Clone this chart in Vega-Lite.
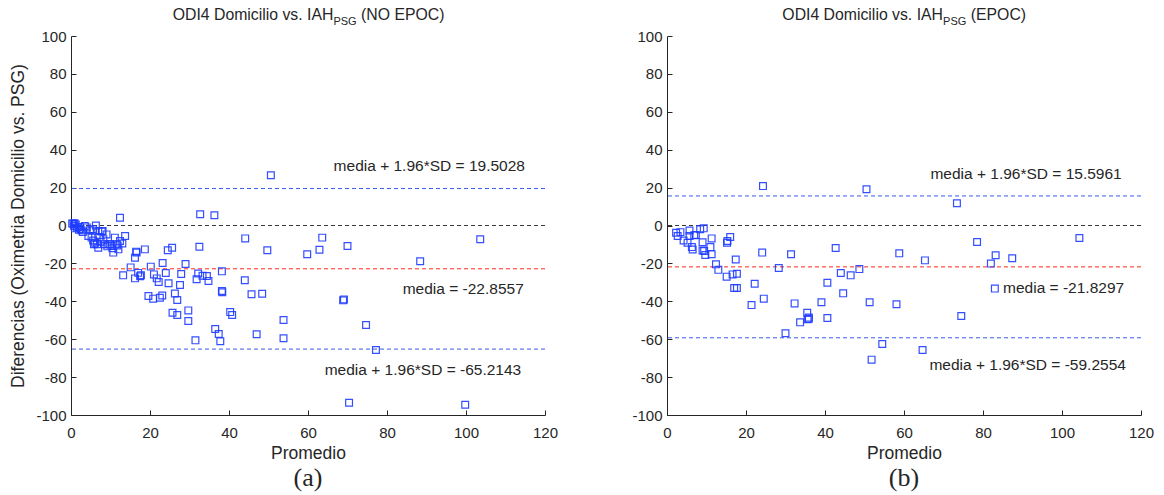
{
  "$schema": "https://vega.github.io/schema/vega-lite/v6.json",
  "padding": {"left": 9, "top": 6, "right": 5, "bottom": 2},
  "spacing": 73,
  "config": {
    "view": {"stroke": null},
    "axis": {
      "grid": false,
      "domainColor": "#262626",
      "tickColor": "#262626",
      "labelColor": "#262626",
      "titleColor": "#262626",
      "labelFont": "Liberation Sans",
      "titleFont": "Liberation Sans",
      "labelFontSize": 15,
      "titleFontSize": 17.5,
      "titleFontWeight": "normal",
      "labelFlush": false,
      "ticks": true,
      "tickSize": -5,
      "domainWidth": 1,
      "tickWidth": 1
    },
    "text": {"font": "Liberation Sans", "color": "#262626"},
    "title": {"font": "Liberation Serif", "fontSize": 26, "fontWeight": "normal", "color": "#262626"}
  },
  "datasets": {
    "ptsA": [
      {"promedio": 12.4, "diferencia": 4.1}, {"promedio": 32.7, "diferencia": 5.9}, {"promedio": 36.3, "diferencia": 5.4},
      {"promedio": 50.6, "diferencia": 26.5}, {"promedio": 44.1, "diferencia": -6.8}, {"promedio": 63.6, "diferencia": -6.4},
      {"promedio": 49.7, "diferencia": -13.1}, {"promedio": 59.8, "diferencia": -15.2}, {"promedio": 62.9, "diferencia": -12.8},
      {"promedio": 70.0, "diferencia": -10.8}, {"promedio": 88.4, "diferencia": -18.9}, {"promedio": 103.6, "diferencia": -7.3},
      {"promedio": 32.5, "diferencia": -11.2}, {"promedio": 25.6, "diferencia": -11.7}, {"promedio": 24.5, "diferencia": -13.1},
      {"promedio": 18.7, "diferencia": -12.6}, {"promedio": 16.5, "diferencia": -13.8}, {"promedio": 16.6, "diferencia": -14.3},
      {"promedio": 16.2, "diferencia": -17.0}, {"promedio": 23.2, "diferencia": -19.8}, {"promedio": 29.0, "diferencia": -20.3},
      {"promedio": 15.1, "diferencia": -22.1}, {"promedio": 20.2, "diferencia": -21.7}, {"promedio": 13.2, "diferencia": -26.3},
      {"promedio": 16.2, "diferencia": -27.9}, {"promedio": 17.0, "diferencia": -25.0}, {"promedio": 17.5, "diferencia": -26.8},
      {"promedio": 17.7, "diferencia": -26.2}, {"promedio": 21.0, "diferencia": -25.8}, {"promedio": 21.7, "diferencia": -27.9},
      {"promedio": 22.2, "diferencia": -29.8}, {"promedio": 24.0, "diferencia": -25.1}, {"promedio": 24.7, "diferencia": -30.5},
      {"promedio": 27.9, "diferencia": -25.6}, {"promedio": 27.6, "diferencia": -31.4}, {"promedio": 32.2, "diferencia": -25.3},
      {"promedio": 31.8, "diferencia": -28.4}, {"promedio": 33.3, "diferencia": -26.5}, {"promedio": 34.4, "diferencia": -26.7},
      {"promedio": 34.8, "diferencia": -29.3}, {"promedio": 38.2, "diferencia": -24.2}, {"promedio": 38.2, "diferencia": -34.6},
      {"promedio": 38.3, "diferencia": -35.2}, {"promedio": 44.0, "diferencia": -28.9}, {"promedio": 45.7, "diferencia": -36.3},
      {"promedio": 48.4, "diferencia": -36.0}, {"promedio": 19.6, "diferencia": -37.2}, {"promedio": 20.8, "diferencia": -38.6},
      {"promedio": 22.5, "diferencia": -38.1}, {"promedio": 23.1, "diferencia": -36.9}, {"promedio": 26.3, "diferencia": -35.9},
      {"promedio": 26.9, "diferencia": -39.3}, {"promedio": 25.7, "diferencia": -46.0}, {"promedio": 26.9, "diferencia": -47.2},
      {"promedio": 29.7, "diferencia": -44.8}, {"promedio": 29.7, "diferencia": -50.4}, {"promedio": 40.3, "diferencia": -45.7},
      {"promedio": 40.8, "diferencia": -47.2}, {"promedio": 31.5, "diferencia": -60.6}, {"promedio": 36.5, "diferencia": -54.6},
      {"promedio": 37.4, "diferencia": -57.3}, {"promedio": 37.8, "diferencia": -61.1}, {"promedio": 47.0, "diferencia": -57.4},
      {"promedio": 53.8, "diferencia": -49.9}, {"promedio": 53.8, "diferencia": -59.5}, {"promedio": 68.9, "diferencia": -39.5},
      {"promedio": 69.1, "diferencia": -39.0}, {"promedio": 74.7, "diferencia": -52.5}, {"promedio": 77.2, "diferencia": -65.7},
      {"promedio": 70.4, "diferencia": -93.5}, {"promedio": 99.8, "diferencia": -94.6},
      {"promedio": 0.3, "diferencia": 1.0}, {"promedio": 0.6, "diferencia": 0.9}, {"promedio": 0.9, "diferencia": 1.2},
      {"promedio": 1.2, "diferencia": 0.5}, {"promedio": 0.8, "diferencia": -0.3}, {"promedio": 1.5, "diferencia": -1.0},
      {"promedio": 2.0, "diferencia": -2.3}, {"promedio": 2.4, "diferencia": -1.8}, {"promedio": 2.7, "diferencia": -2.6},
      {"promedio": 1.0, "diferencia": -1.5}, {"promedio": 3.5, "diferencia": -0.3}, {"promedio": 4.0, "diferencia": -1.0},
      {"promedio": 4.8, "diferencia": -2.5}, {"promedio": 5.6, "diferencia": -2.0}, {"promedio": 6.3, "diferencia": 0.0},
      {"promedio": 6.9, "diferencia": -2.9}, {"promedio": 7.8, "diferencia": -3.2}, {"promedio": 4.4, "diferencia": -5.5},
      {"promedio": 5.2, "diferencia": -6.4}, {"promedio": 5.6, "diferencia": -7.9}, {"promedio": 6.1, "diferencia": -9.1},
      {"promedio": 6.9, "diferencia": -11.7}, {"promedio": 5.8, "diferencia": -9.9}, {"promedio": 6.6, "diferencia": -9.9},
      {"promedio": 7.5, "diferencia": -8.6}, {"promedio": 8.2, "diferencia": -7.3}, {"promedio": 9.0, "diferencia": -4.7},
      {"promedio": 8.6, "diferencia": -9.9}, {"promedio": 9.5, "diferencia": -9.9}, {"promedio": 9.9, "diferencia": -9.9},
      {"promedio": 10.3, "diferencia": -10.8}, {"promedio": 10.7, "diferencia": -14.3}, {"promedio": 11.1, "diferencia": -6.4},
      {"promedio": 11.6, "diferencia": -9.9}, {"promedio": 12.0, "diferencia": -12.6}, {"promedio": 12.4, "diferencia": -8.2},
      {"promedio": 13.7, "diferencia": -5.5}, {"promedio": 8.0, "diferencia": -2.9}, {"promedio": 9.2, "diferencia": -11.0},
      {"promedio": 10.5, "diferencia": -12.0}, {"promedio": 7.2, "diferencia": -6.0}, {"promedio": 3.0, "diferencia": -3.5},
      {"promedio": 11.8, "diferencia": -10.5}, {"promedio": 13.0, "diferencia": -9.5}, {"promedio": 2.2, "diferencia": -0.8}
    ],
    "ptsB": [
      {"promedio": 24.3, "diferencia": 20.8}, {"promedio": 50.5, "diferencia": 19.1}, {"promedio": 73.4, "diferencia": 11.7},
      {"promedio": 2.3, "diferencia": -3.8}, {"promedio": 2.7, "diferencia": -5.5}, {"promedio": 3.4, "diferencia": -3.5},
      {"promedio": 4.2, "diferencia": -7.9}, {"promedio": 5.2, "diferencia": -9.1}, {"promedio": 5.7, "diferencia": -5.5},
      {"promedio": 5.7, "diferencia": -2.6}, {"promedio": 6.3, "diferencia": -11.4}, {"promedio": 6.5, "diferencia": -12.7},
      {"promedio": 6.9, "diferencia": -5.2}, {"promedio": 7.3, "diferencia": -5.0}, {"promedio": 8.4, "diferencia": -2.0},
      {"promedio": 9.3, "diferencia": -1.5}, {"promedio": 9.0, "diferencia": -8.8}, {"promedio": 9.0, "diferencia": -13.2},
      {"promedio": 9.7, "diferencia": -15.6}, {"promedio": 9.4, "diferencia": -13.5}, {"promedio": 11.0, "diferencia": -11.4},
      {"promedio": 11.3, "diferencia": -15.2}, {"promedio": 11.3, "diferencia": -6.8}, {"promedio": 15.2, "diferencia": -9.1},
      {"promedio": 15.3, "diferencia": -8.2}, {"promedio": 16.0, "diferencia": -6.1}, {"promedio": 17.4, "diferencia": -17.9},
      {"promedio": 12.4, "diferencia": -20.5}, {"promedio": 13.0, "diferencia": -23.4}, {"promedio": 15.1, "diferencia": -27.0},
      {"promedio": 16.6, "diferencia": -25.8}, {"promedio": 17.7, "diferencia": -25.5}, {"promedio": 17.0, "diferencia": -33.0},
      {"promedio": 17.7, "diferencia": -33.0}, {"promedio": 24.1, "diferencia": -14.3}, {"promedio": 31.4, "diferencia": -15.2},
      {"promedio": 22.2, "diferencia": -30.7}, {"promedio": 24.5, "diferencia": -38.6}, {"promedio": 21.4, "diferencia": -42.0},
      {"promedio": 28.3, "diferencia": -22.4}, {"promedio": 32.3, "diferencia": -41.1}, {"promedio": 30.0, "diferencia": -56.9},
      {"promedio": 33.7, "diferencia": -51.1}, {"promedio": 35.5, "diferencia": -46.0}, {"promedio": 35.9, "diferencia": -48.6},
      {"promedio": 35.9, "diferencia": -49.2}, {"promedio": 35.6, "diferencia": -49.5}, {"promedio": 39.1, "diferencia": -40.5},
      {"promedio": 40.6, "diferencia": -30.2}, {"promedio": 40.6, "diferencia": -48.8}, {"promedio": 42.7, "diferencia": -11.9},
      {"promedio": 44.0, "diferencia": -25.1}, {"promedio": 44.6, "diferencia": -35.8}, {"promedio": 46.5, "diferencia": -26.3},
      {"promedio": 48.7, "diferencia": -23.0}, {"promedio": 51.3, "diferencia": -40.5}, {"promedio": 54.5, "diferencia": -62.5},
      {"promedio": 51.8, "diferencia": -70.8}, {"promedio": 58.1, "diferencia": -41.6}, {"promedio": 58.8, "diferencia": -14.7},
      {"promedio": 64.7, "diferencia": -65.7}, {"promedio": 65.3, "diferencia": -18.4}, {"promedio": 74.5, "diferencia": -47.8},
      {"promedio": 78.5, "diferencia": -8.7}, {"promedio": 82.0, "diferencia": -20.1}, {"promedio": 83.2, "diferencia": -15.7},
      {"promedio": 83.0, "diferencia": -33.3}, {"promedio": 87.4, "diferencia": -17.3}, {"promedio": 104.4, "diferencia": -6.6}
    ],
    "linesA": [
      {"tipo": "cero", "valor": 0}, {"tipo": "media", "valor": -22.8557},
      {"tipo": "limite", "valor": 19.5028}, {"tipo": "limite", "valor": -65.2143}
    ],
    "linesB": [
      {"tipo": "cero", "valor": 0}, {"tipo": "media", "valor": -21.8297},
      {"tipo": "limite", "valor": 15.5961}, {"tipo": "limite", "valor": -59.2554}
    ],
    "notasA": [
      {"texto": "media + 1.96*SD = 19.5028", "x": 90.7, "y": 31.4},
      {"texto": "media = -22.8557", "x": 99.3, "y": -33.7},
      {"texto": "media + 1.96*SD = -65.2143", "x": 89.1, "y": -76.4}
    ],
    "notasB": [
      {"texto": "media + 1.96*SD = 15.5961", "x": 90.9, "y": 27.0},
      {"texto": "media = -21.8297", "x": 100.4, "y": -32.8},
      {"texto": "media + 1.96*SD = -59.2554", "x": 91.3, "y": -73.6}
    ],
    "tituloA": [
      {"texto": "ODI4 Domicilio vs. IAH", "x": 25.75, "y": 111.1, "parte": "principal"},
      {"texto": "PSG", "x": 66.44, "y": 107.2, "parte": "sub"},
      {"texto": "(NO EPOC)", "x": 73.43, "y": 111.1, "parte": "principal"}
    ],
    "tituloB": [
      {"texto": "ODI4 Domicilio vs. IAH", "x": 29.2, "y": 111.1, "parte": "principal"},
      {"texto": "PSG", "x": 69.9, "y": 107.2, "parte": "sub"},
      {"texto": "(EPOC)", "x": 76.9, "y": 111.1, "parte": "principal"}
    ]
  },
  "hconcat": [
    {
      "width": 474,
      "height": 379,
      "title": {"text": "(a)", "orient": "bottom", "offset": 3},
      "encoding": {
        "x": {"type": "quantitative", "scale": {"domain": [0, 120], "nice": false, "zero": false},
              "axis": {"values": [0, 20, 40, 60, 80, 100, 120], "title": "Promedio", "titlePadding": 4, "labelPadding": 15, "labelExpr": "'' + datum.value"}},
        "y": {"type": "quantitative", "scale": {"domain": [-100, 100], "nice": false, "zero": false},
              "axis": {"values": [-100, -80, -60, -40, -20, 0, 20, 40, 60, 80, 100], "title": "Diferencias (Oximetria Domicilio vs. PSG)", "titlePadding": 8, "labelPadding": 10, "labelExpr": "'' + datum.value"}}
      },
      "layer": [
        {
          "data": {"name": "linesA"},
          "mark": {"type": "rule", "strokeDash": [4, 3], "strokeWidth": 1},
          "encoding": {
            "x": null,
            "y": {"field": "valor", "type": "quantitative"},
            "color": {"field": "tipo", "type": "nominal", "legend": null,
                      "scale": {"domain": ["cero", "media", "limite"], "range": ["#3a3a3a", "#ff2a1a", "#3a5ae8"]}}
          }
        },
        {
          "data": {"name": "ptsA"},
          "mark": {"type": "point", "shape": "square", "filled": false, "size": 46, "strokeWidth": 1.2, "color": "#1f3cff", "opacity": 0.9},
          "encoding": {
            "x": {"field": "promedio", "type": "quantitative"},
            "y": {"field": "diferencia", "type": "quantitative"}
          }
        },
        {
          "data": {"name": "notasA"},
          "mark": {"type": "text", "fontSize": 15.5, "align": "center", "baseline": "middle"},
          "encoding": {
            "x": {"field": "x", "type": "quantitative"},
            "y": {"field": "y", "type": "quantitative"},
            "text": {"field": "texto"}
          }
        },
        {
          "data": {"name": "tituloA"},
          "transform": [{"filter": "datum.parte == 'principal'"}],
          "mark": {"type": "text", "fontSize": 15.8, "align": "left", "baseline": "middle"},
          "encoding": {
            "x": {"field": "x", "type": "quantitative"},
            "y": {"field": "y", "type": "quantitative"},
            "text": {"field": "texto"}
          }
        },
        {
          "data": {"name": "tituloA"},
          "transform": [{"filter": "datum.parte == 'sub'"}],
          "mark": {"type": "text", "fontSize": 11, "align": "left", "baseline": "middle"},
          "encoding": {
            "x": {"field": "x", "type": "quantitative"},
            "y": {"field": "y", "type": "quantitative"},
            "text": {"field": "texto"}
          }
        }
      ]
    },
    {
      "width": 474,
      "height": 379,
      "title": {"text": "(b)", "orient": "bottom", "offset": 3},
      "encoding": {
        "x": {"type": "quantitative", "scale": {"domain": [0, 120], "nice": false, "zero": false},
              "axis": {"values": [0, 20, 40, 60, 80, 100, 120], "title": "Promedio", "titlePadding": 4, "labelPadding": 15, "labelExpr": "'' + datum.value"}},
        "y": {"type": "quantitative", "scale": {"domain": [-100, 100], "nice": false, "zero": false},
              "axis": {"values": [-100, -80, -60, -40, -20, 0, 20, 40, 60, 80, 100], "title": null, "labelPadding": 10, "labelExpr": "'' + datum.value"}}
      },
      "layer": [
        {
          "data": {"name": "linesB"},
          "mark": {"type": "rule", "strokeDash": [4, 3], "strokeWidth": 1},
          "encoding": {
            "x": null,
            "y": {"field": "valor", "type": "quantitative"},
            "color": {"field": "tipo", "type": "nominal", "legend": null,
                      "scale": {"domain": ["cero", "media", "limite"], "range": ["#3a3a3a", "#ff2a1a", "#3a5ae8"]}}
          }
        },
        {
          "data": {"name": "ptsB"},
          "mark": {"type": "point", "shape": "square", "filled": false, "size": 46, "strokeWidth": 1.2, "color": "#1f3cff", "opacity": 0.9},
          "encoding": {
            "x": {"field": "promedio", "type": "quantitative"},
            "y": {"field": "diferencia", "type": "quantitative"}
          }
        },
        {
          "data": {"name": "notasB"},
          "mark": {"type": "text", "fontSize": 15.5, "align": "center", "baseline": "middle"},
          "encoding": {
            "x": {"field": "x", "type": "quantitative"},
            "y": {"field": "y", "type": "quantitative"},
            "text": {"field": "texto"}
          }
        },
        {
          "data": {"name": "tituloB"},
          "transform": [{"filter": "datum.parte == 'principal'"}],
          "mark": {"type": "text", "fontSize": 15.8, "align": "left", "baseline": "middle"},
          "encoding": {
            "x": {"field": "x", "type": "quantitative"},
            "y": {"field": "y", "type": "quantitative"},
            "text": {"field": "texto"}
          }
        },
        {
          "data": {"name": "tituloB"},
          "transform": [{"filter": "datum.parte == 'sub'"}],
          "mark": {"type": "text", "fontSize": 11, "align": "left", "baseline": "middle"},
          "encoding": {
            "x": {"field": "x", "type": "quantitative"},
            "y": {"field": "y", "type": "quantitative"},
            "text": {"field": "texto"}
          }
        }
      ]
    }
  ]
}
